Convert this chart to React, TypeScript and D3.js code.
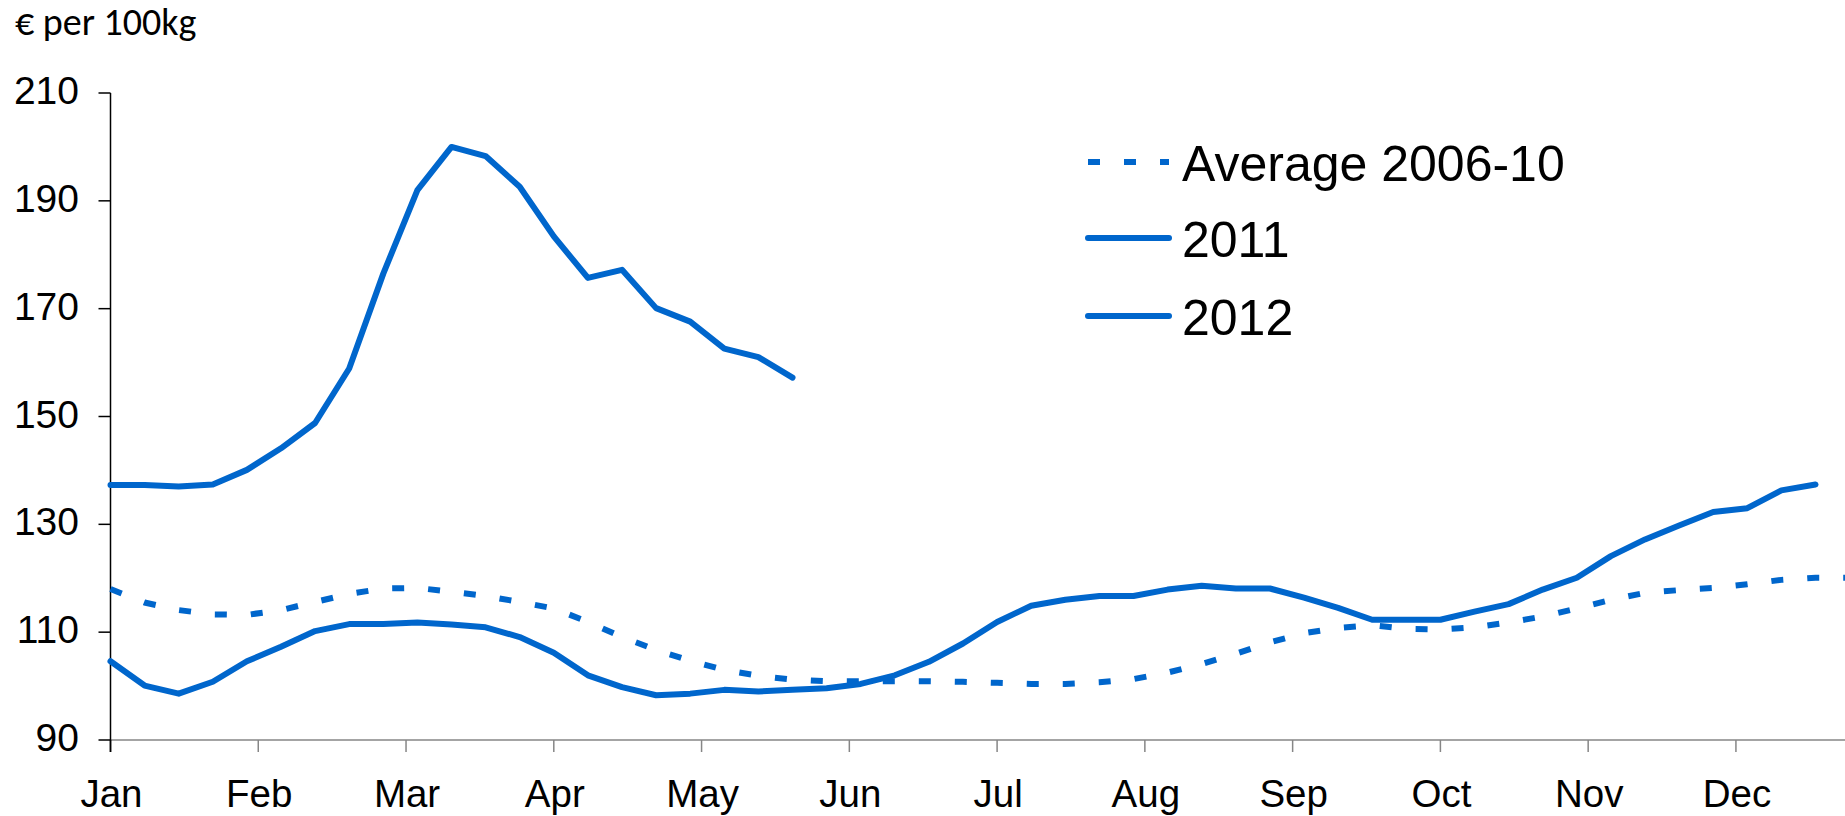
import React from "react";
import * as d3 from "d3";

const months = ["Jan", "Feb", "Mar", "Apr", "May", "Jun", "Jul", "Aug", "Sep", "Oct", "Nov", "Dec"];
const yTicks = [90, 110, 130, 150, 170, 190, 210];

// weekly values (week index 0..)
const average2006_10 = [
  118.0, 115.5, 114.1, 113.3, 113.2, 114.1, 115.6, 117.1, 118.1, 118.2,
  117.5, 116.7, 115.6, 114.4, 111.9, 109.1, 106.7, 104.7, 103.0, 101.9,
  101.2, 100.9, 100.9, 100.9, 100.9, 100.8, 100.6, 100.4, 100.4, 100.7,
  101.3, 102.5, 104.1, 106.0, 108.1, 109.8, 110.8, 111.3, 110.6, 110.5,
  110.9, 111.8, 112.9, 114.4, 116.0, 117.3, 117.8, 118.2, 118.9, 119.7,
  120.1, 120.1,
];
const series2011 = [
  104.6, 100.1, 98.6, 100.8, 104.6, 107.3, 110.2, 111.5, 111.5, 111.8,
  111.4, 110.9, 109.1, 106.2, 102.0, 99.8, 98.3, 98.6, 99.3, 99.0,
  99.3, 99.6, 100.4, 102.0, 104.5, 107.9, 111.9, 114.9, 116.0, 116.7,
  116.7, 117.9, 118.6, 118.1, 118.1, 116.4, 114.5, 112.3, 112.3, 112.3,
  113.8, 115.2, 117.9, 120.1, 124.1, 127.2, 129.8, 132.3, 133.0, 136.3,
  137.4,
];
const series2012 = [
  137.3, 137.3, 137.0, 137.4, 140.1, 144.1, 148.8, 158.9, 176.5, 192.0,
  200.0, 198.3, 192.6, 183.4, 175.7, 177.2, 170.1, 167.6, 162.6, 161.0,
  157.2,
];
const legendLabels = ["Average 2006-10", "2011", "2012"];

const W = 1845;
const H = 816;
const X0 = 110.5;
const WEEK = 34.1;
const WEEKS = 52;

export default function App() {
  const x = d3.scaleLinear().domain([0, WEEKS]).range([X0, X0 + WEEKS * WEEK]);
  const y = d3.scaleLinear().domain([90, 210]).range([740, 93]);
  const line = d3
    .line<number>()
    .x((_, i) => x(i))
    .y((d) => y(d));

  const blue = "#0066cc";
  const tickFont = "'Liberation Sans', Arial, sans-serif";
  const axisGrey = "#868686";

  const monthPos = months.map((_, m) => (m * WEEKS) / 12);

  return (
    <svg
      width={W}
      height={H}
      style={{ position: "absolute", left: 0, top: 0, background: "#fff" }}
    >
      <rect x={0} y={0} width={W} height={H} fill="#fff" />
      {/* y title */}
      <text x={15} y={35} fontFamily="Carlito, Lato, sans-serif" fontSize={38} fill="#000">
        € per 100kg
      </text>

      {/* x axis */}
      <line x1={x(0)} x2={W + 50} y1={y(90)} y2={y(90)} stroke={axisGrey} strokeWidth={1.5} />
      {monthPos.map((w, i) => (
        <g key={months[i]}>
          <line x1={x(w)} x2={x(w)} y1={y(90)} y2={y(90) + 12} stroke={i === 0 ? "#000" : axisGrey} strokeWidth={1.5} />
          <text
            x={x(w) + 1}
            y={807}
            textAnchor="middle"
            fontFamily={tickFont}
            fontSize={38.5}
            fill="#000"
          >
            {months[i]}
          </text>
        </g>
      ))}

      {/* y axis */}
      <line x1={X0} x2={X0} y1={y(210)} y2={y(90) + 12} stroke="#000" strokeWidth={1.5} />
      {yTicks.map((t) => (
        <g key={t}>
          <line x1={X0 - 12} x2={X0} y1={y(t)} y2={y(t)} stroke="#000" strokeWidth={1.5} />
          <text
            x={79}
            y={y(t) + 11}
            textAnchor="end"
            fontFamily={tickFont}
            fontSize={39}
            fill="#000"
          >
            {t}
          </text>
        </g>
      ))}

      {/* series */}
      <path
        d={line(average2006_10) || ""}
        fill="none"
        stroke={blue}
        strokeWidth={6}
        strokeDasharray="12 24"
        strokeLinecap="butt"
      />
      <path
        d={line(series2011) || ""}
        fill="none"
        stroke={blue}
        strokeWidth={6}
        strokeLinejoin="round"
        strokeLinecap="round"
      />
      <path
        d={line(series2012) || ""}
        fill="none"
        stroke={blue}
        strokeWidth={6}
        strokeLinejoin="round"
        strokeLinecap="round"
      />

      {/* legend */}
      {legendLabels.map((lab, i) => {
        const base = [181, 257, 335][i];
        const ly = base - 19;
        return (
          <g key={lab}>
            <line
              x1={1088}
              x2={1169}
              y1={ly}
              y2={ly}
              stroke={blue}
              strokeWidth={6}
              strokeDasharray={i === 0 ? "12 24" : undefined}
              strokeLinecap={i === 0 ? "butt" : "round"}
            />
            <text x={1182} y={base} fontFamily={tickFont} fontSize={50} fill="#000">
              {lab}
            </text>
          </g>
        );
      })}
    </svg>
  );
}
